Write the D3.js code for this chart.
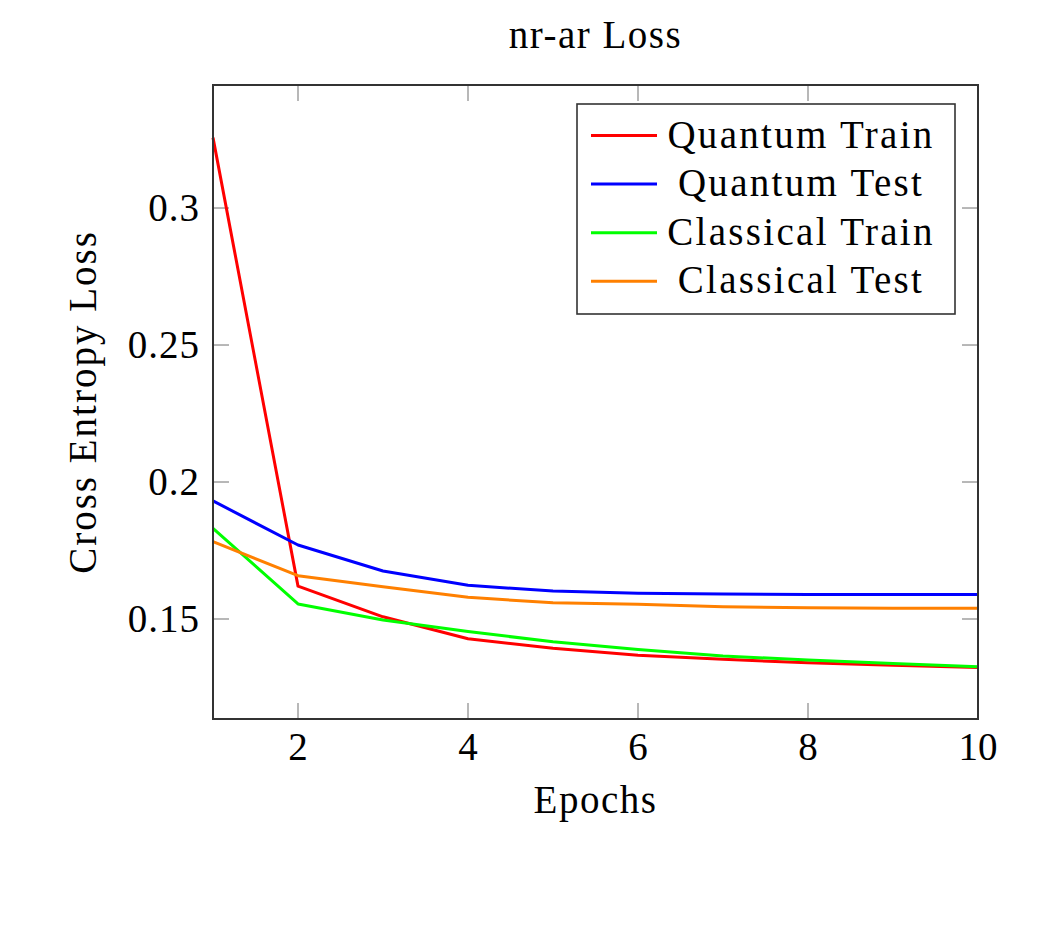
<!DOCTYPE html>
<meta charset="utf-8">
<style>
body { margin: 0; background: #fff; }
text {
  font-family: "Liberation Serif", "DejaVu Serif", serif;
  fill: #000;
}
.frame { fill: none; stroke: #333; stroke-width: 2px; }
.tick-mark { stroke: #a0a0a0; stroke-width: 1.5px; }
</style>
<body>
<script src="https://d3js.org/d3.v7.min.js"></script>
<script>
// epochs and loss values
var epochs = [1, 2, 3, 4, 5, 6, 7, 8, 9, 10];
var quantumTrain = [0.3257, 0.1620, 0.1508, 0.1428, 0.1393, 0.1368, 0.1353, 0.1340, 0.1331, 0.1323];
var quantumTest = [0.1931, 0.1770, 0.1675, 0.1623, 0.1602, 0.1594, 0.1591, 0.1589, 0.1589, 0.1589];
var classicalTrain = [0.1831, 0.1555, 0.1496, 0.1454, 0.1417, 0.1389, 0.1365, 0.1350, 0.1338, 0.1326];
var classicalTest = [0.1782, 0.1658, 0.1618, 0.1579, 0.1559, 0.1554, 0.1545, 0.1541, 0.1539, 0.1539];

var xTicks = [2, 4, 6, 8, 10];
var yTicks = [0.15, 0.2, 0.25, 0.3];
var seriesNames = ["Quantum Train", "Quantum Test", "Classical Train", "Classical Test"];
var seriesColors = ["#ff0000", "#0000ff", "#00ff00", "#ff8000"];
var seriesValues = [quantumTrain, quantumTest, classicalTrain, classicalTest];

var width = 1063, height = 932;
// plot box (window.top is taken, so prefix these)
var pLeft = 213, pRight = 978, pTop = 85, pBottom = 719;

var svg = d3.select("body").append("svg")
    .attr("width", width)
    .attr("height", height);

var x = d3.scaleLinear().domain([1, 10]).range([pLeft, pRight]);
var y = d3.scaleLinear().domain([0.1135, 0.3449]).range([pBottom, pTop]);

var fmtY = function(d) { return String(+d.toFixed(2)); };

// tick marks, inside on all four sides
var tickLen = 16;
var ticks = svg.append("g");
xTicks.forEach(function(t) {
  ticks.append("line").attr("class", "tick-mark")
    .attr("x1", x(t)).attr("x2", x(t)).attr("y1", pBottom).attr("y2", pBottom - tickLen);
  ticks.append("line").attr("class", "tick-mark")
    .attr("x1", x(t)).attr("x2", x(t)).attr("y1", pTop).attr("y2", pTop + tickLen);
});
yTicks.forEach(function(t) {
  ticks.append("line").attr("class", "tick-mark")
    .attr("x1", pLeft).attr("x2", pLeft + tickLen).attr("y1", y(t)).attr("y2", y(t));
  ticks.append("line").attr("class", "tick-mark")
    .attr("x1", pRight).attr("x2", pRight - tickLen).attr("y1", y(t)).attr("y2", y(t));
});

// the lines
var line = d3.line()
  .x(function(d) { return x(d[0]); })
  .y(function(d) { return y(d[1]); });

var plot = svg.append("g");
seriesValues.forEach(function(vals, i) {
  plot.append("path")
    .datum(epochs.map(function(e, j) { return [e, vals[j]]; }))
    .attr("d", line)
    .attr("fill", "none")
    .attr("stroke", seriesColors[i])
    .attr("stroke-width", 3)
    .attr("stroke-linejoin", "round");
});

svg.append("rect").attr("class", "frame")
  .attr("x", pLeft).attr("y", pTop)
  .attr("width", pRight - pLeft).attr("height", pBottom - pTop);

// tick labels
svg.append("g").selectAll("text")
  .data(xTicks).enter().append("text")
  .attr("x", function(d) { return x(d); })
  .attr("y", 760)
  .attr("text-anchor", "middle")
  .style("font-size", "39px")
  .text(function(d) { return d; });

svg.append("g").selectAll("text")
  .data(yTicks).enter().append("text")
  .attr("x", 200)
  .attr("y", function(d) { return y(d) + 13; })
  .attr("text-anchor", "end")
  .style("font-size", "39px")
  .style("letter-spacing", "1px")
  .text(fmtY);

// titles
svg.append("text")
  .attr("x", (pLeft + pRight) / 2).attr("y", 48)
  .attr("text-anchor", "middle")
  .style("font-size", "39px")
  .style("letter-spacing", "1.5px")
  .text("nr-ar Loss");

svg.append("text")
  .attr("x", (pLeft + pRight) / 2).attr("y", 813)
  .attr("text-anchor", "middle")
  .style("font-size", "39px")
  .style("letter-spacing", "1.5px")
  .text("Epochs");

svg.append("text")
  .attr("transform", "translate(96," + ((pTop + pBottom) / 2) + ") rotate(-90)")
  .attr("text-anchor", "middle")
  .style("font-size", "39px")
  .style("letter-spacing", "2px")
  .text("Cross Entropy Loss");

// legend
var legend = svg.append("g");
legend.append("rect")
  .attr("x", 577).attr("y", 104)
  .attr("width", 378).attr("height", 210)
  .attr("fill", "#fff").attr("stroke", "#333").attr("stroke-width", 1.6);

seriesNames.forEach(function(name, i) {
  var ry = 135.5 + i * 48.6;
  legend.append("line")
    .attr("x1", 591).attr("x2", 657).attr("y1", ry).attr("y2", ry)
    .attr("stroke", seriesColors[i]).attr("stroke-width", 3);
  legend.append("text")
    .attr("x", 801).attr("y", ry + 12)
    .attr("text-anchor", "middle")
    .style("font-size", "39px")
    .style("letter-spacing", "2.3px")
    .text(name);
});
</script>
